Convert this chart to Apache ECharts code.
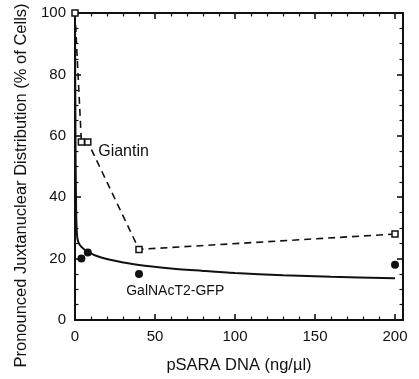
<!DOCTYPE html>
<html>
<head>
<meta charset="utf-8">
<script src="https://cdn.jsdelivr.net/npm/echarts@6/dist/echarts.min.js"></script>
<style>
  html, body { margin: 0; padding: 0; background: #fff; }
  #chart { width: 419px; height: 379px; }
</style>
</head>
<body>
<div id="chart"></div>
<script>
// Giantin (open squares, dashed)
var giantinX = [0, 4, 8, 40, 200];
var giantinY = [100, 58, 58, 23, 28];
// GalNAcT2-GFP (filled circles)
var galX = [4, 8, 40, 200];
var galY = [20, 22, 15, 18];
// fitted curve for GalNAcT2-GFP
var fitX = [0, 0.3, 0.7, 1.2, 2, 4, 8, 15, 25, 40, 60, 80, 100, 130, 160, 200];
var fitY = [100, 60, 36, 28, 25.5, 23.8, 22.2, 20.6, 19.3, 17.9, 16.8, 16, 15.3, 14.6, 14.1, 13.6];
var xTickStep = 50;
var yTickStep = 20;

function pairs(xs, ys) {
  return xs.map(function (x, i) { return [x, ys[i]]; });
}

var font = 'Liberation Sans, Arial, Helvetica, sans-serif';
var ink = '#111';

var myChart = echarts.init(document.getElementById('chart'));

// ticks point into the plot on all four sides
function axis(minorSplit, extra) {
  return Object.assign({
    type: 'value',
    axisLine: {show: true, lineStyle: {color: ink, width: 2}},
    axisTick: {show: true, inside: true, length: 6, lineStyle: {color: ink, width: 1.6}},
    minorTick: {show: true, splitNumber: minorSplit, length: 3.5, lineStyle: {color: ink, width: 1.2}},
    splitLine: {show: false}
  }, extra);
}

var edgeLine = {show: true, onZero: false, lineStyle: {color: ink, width: 2}};

myChart.setOption({
  animation: false,
  backgroundColor: '#fff',
  grid: {left: 75, right: 16, top: 13, bottom: 57},
  xAxis: [
    axis(5, {
      min: 0, max: 205, interval: xTickStep,
      name: 'pSARA DNA (ng/\u00b5l)',
      nameLocation: 'middle',
      nameGap: 37,
      nameTextStyle: {color: ink, fontSize: 16.5, fontFamily: font},
      axisLabel: {color: ink, fontSize: 15, fontFamily: font, margin: 9, showMaxLabel: false}
    }),
    axis(5, {
      min: 0, max: 205, interval: xTickStep, position: 'top',
      axisLine: edgeLine,
      axisLabel: {show: false}
    })
  ],
  yAxis: [
    axis(4, {
      min: 0, max: 100, interval: yTickStep,
      name: 'Pronounced Juxtanuclear Distribution (% of Cells)',
      nameLocation: 'middle',
      nameGap: 42,
      nameTextStyle: {color: ink, fontSize: 16.5, fontFamily: font, padding: [0, 38, 0, 0]},
      axisLabel: {color: ink, fontSize: 15, fontFamily: font, margin: 9}
    }),
    axis(4, {
      min: 0, max: 100, interval: yTickStep, position: 'right',
      axisLine: edgeLine,
      axisLabel: {show: false}
    })
  ],
  series: [
    {
      name: 'fit',
      type: 'line',
      data: pairs(fitX, fitY),
      smooth: 0.3,
      showSymbol: false,
      lineStyle: {color: ink, width: 2}
    },
    {
      name: 'Giantin',
      type: 'line',
      data: pairs(giantinX, giantinY),
      symbol: 'rect',
      symbolSize: 6,
      itemStyle: {color: '#fff', borderColor: ink, borderWidth: 1.5},
      lineStyle: {color: ink, width: 1.6, type: [7, 5]},
      markPoint: {
        symbol: 'circle', symbolSize: 0,
        label: {show: true, position: 'right', distance: 0, color: ink, fontSize: 16, fontFamily: font, formatter: '{b}'},
        data: [{name: 'Giantin', coord: [14.5, 55]}]
      }
    },
    {
      name: 'GalNAcT2-GFP',
      type: 'scatter',
      data: pairs(galX, galY),
      symbol: 'circle',
      symbolSize: 8,
      itemStyle: {color: ink, opacity: 1},
      markPoint: {
        symbol: 'circle', symbolSize: 0,
        label: {show: true, position: 'right', distance: 0, color: ink, fontSize: 14, fontFamily: font, formatter: '{b}'},
        data: [{name: 'GalNAcT2-GFP', coord: [32, 9.4]}]
      }
    }
  ]
});
</script>
</body>
</html>
